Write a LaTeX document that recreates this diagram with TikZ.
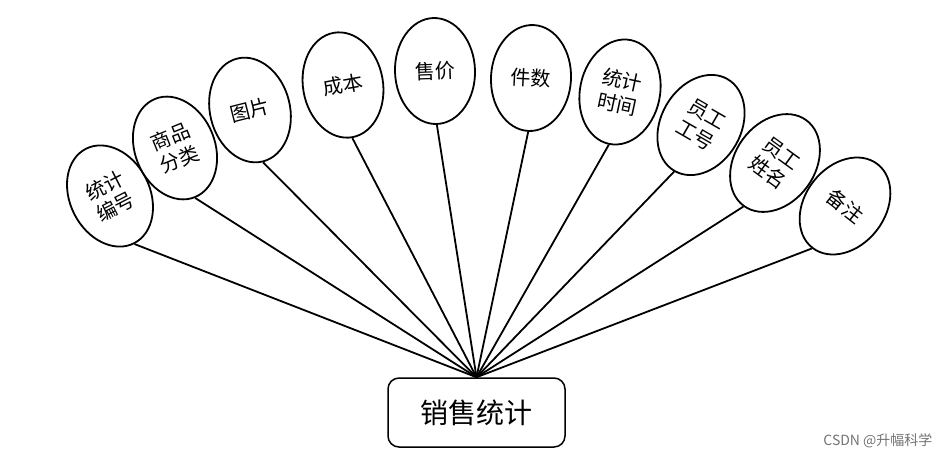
\documentclass[tikz,border=0pt]{standalone}
\usepackage{fontspec}
\newfontfamily\cjk{Noto Sans CJK SC}
\usetikzlibrary{shapes.geometric}
\begin{document}
\begin{tikzpicture}[x=1pt,y=-1pt,
  attr/.style={ellipse, draw=black, line width=1.8pt, fill=white,
    minimum width=80pt, minimum height=106pt, inner sep=0pt, align=center,
    font=\cjk\fontsize{20}{24}\selectfont},
  link/.style={line width=1.8pt, draw=black},
  ent/.style={draw=black, rounded corners=11pt, line width=1.5pt, fill=white,
    minimum width=177pt, minimum height=69pt, inner sep=0pt,
    font=\cjk\fontsize{28}{32}\selectfont},
  wmtext/.style={font=\cjk\fontsize{14}{16}\selectfont, text=black!55}]
\useasboundingbox (0,0) rectangle (952,461);
\node[ent] (main) at (476.5,412.5) {销售统计};
\node[attr, rotate=27]  (a1)  at (110,196) {统计\\编号};
\node[attr, rotate=22]  (a2)  at (175,148) {商品\\分类};
\node[attr, rotate=14]  (a3)  at (250,110) {图片};
\node[attr, rotate=10]  (a4)  at (343,85)  {成本};
\node[attr, rotate=2]   (a5)  at (435,71)  {售价};
\node[attr, rotate=-3]  (a6)  at (531,78)  {件数};
\node[attr, rotate=-12] (a7)  at (620,92)  {统计\\时间};
\node[attr, rotate=-30] (a8)  at (701,125) {员工\\工号};
\node[attr, rotate=-36] (a9)  at (775,163) {员工\\姓名};
\node[attr, rotate=-38] (a10) at (845,206) {备注};
\foreach \n in {a1,a2,a3,a4,a5,a6,a7,a8,a9,a10}
  \draw[link] (\n.south) -- (main.north);
\node[wmtext, anchor=east] (wm) at (936,441) {CSDN @升幅科学};
\end{tikzpicture}
\end{document}
